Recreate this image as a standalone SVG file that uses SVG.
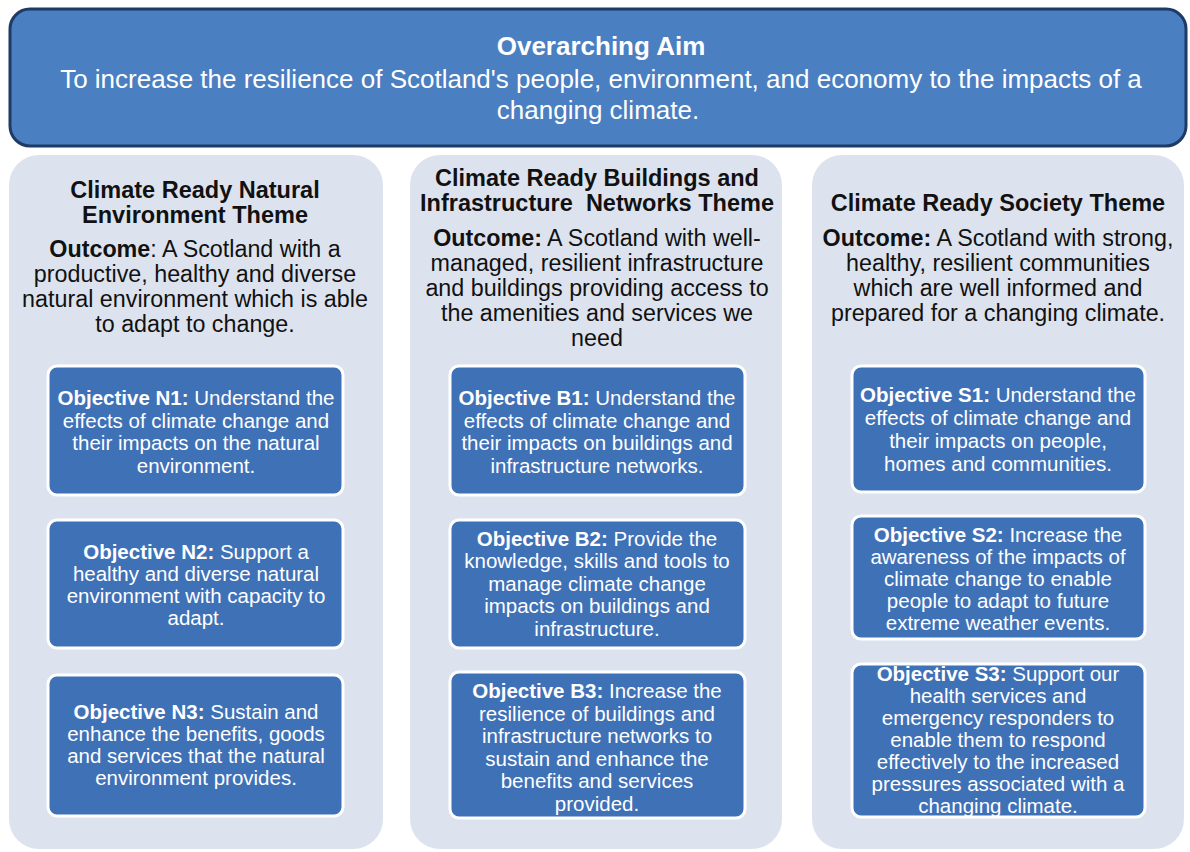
<svg xmlns="http://www.w3.org/2000/svg" width="1190" height="852" viewBox="0 0 1190 852">
<style>
.aimbox{fill:#4a7fc1;stroke:#1d3b64;stroke-width:3}
.panel{fill:#dde3ee}
.obj{fill:#3f71b7;stroke:#ffffff;stroke-width:3}
.wt{font-family:"Liberation Sans",Arial,sans-serif;fill:#ffffff;text-anchor:middle}
.aim{font-size:26px}
.ot{font-size:20.5px}
.th{font-family:"Liberation Sans",Arial,sans-serif;fill:#111111;text-anchor:middle;font-size:23.5px;font-weight:bold}
.oc{font-family:"Liberation Sans",Arial,sans-serif;fill:#111111;text-anchor:middle;font-size:23.3px}
.b{font-weight:bold}
</style>
<rect width="1190" height="852" fill="#ffffff"/>
<g id="aim">
<rect class="aimbox" x="10" y="9" width="1176" height="137" rx="20"/>
<text class="wt aim" x="601" y="55"><tspan class="b">Overarching Aim</tspan></text>
<text class="wt aim" x="601" y="88">To increase the resilience of Scotland's people, environment, and economy to the impacts of a</text>
<text class="wt aim" x="598" y="119">changing climate.</text>
</g>
<g id="theme-natural">
<rect class="panel" x="9" y="155" width="374" height="694" rx="30"/>
<text class="th" x="195" y="198">Climate Ready Natural</text>
<text class="th" x="195" y="223">Environment Theme</text>
<text class="oc" x="195" y="257"><tspan class="b">Outcome</tspan>: A Scotland with a</text>
<text class="oc" x="195" y="282">productive, healthy and diverse</text>
<text class="oc" x="195" y="307">natural environment which is able</text>
<text class="oc" x="195" y="332">to adapt to change.</text>
</g>
<g id="theme-buildings">
<rect class="panel" x="410" y="155" width="372" height="694" rx="30"/>
<text class="th" x="597" y="186">Climate Ready Buildings and</text>
<text class="th" x="597" y="211" xml:space="preserve">Infrastructure  Networks Theme</text>
<text class="oc" x="597" y="246"><tspan class="b">Outcome:</tspan> A Scotland with well-</text>
<text class="oc" x="597" y="271">managed, resilient infrastructure</text>
<text class="oc" x="597" y="296">and buildings providing access to</text>
<text class="oc" x="597" y="321">the amenities and services we</text>
<text class="oc" x="597" y="346">need</text>
</g>
<g id="theme-society">
<rect class="panel" x="812" y="155" width="372" height="694" rx="30"/>
<text class="th" x="998" y="211">Climate Ready Society Theme</text>
<text class="oc" x="998" y="246"><tspan class="b">Outcome:</tspan> A Scotland with strong,</text>
<text class="oc" x="998" y="271">healthy, resilient communities</text>
<text class="oc" x="998" y="296">which are well informed and</text>
<text class="oc" x="998" y="321">prepared for a changing climate.</text>
</g>
<g id="obj-n1">
<rect class="obj" x="48" y="366" width="295" height="129" rx="9"/>
<text class="wt ot" x="196" y="405"><tspan class="b">Objective N1:</tspan> Understand the</text>
<text class="wt ot" x="196" y="428">effects of climate change and</text>
<text class="wt ot" x="196" y="450">their impacts on the natural</text>
<text class="wt ot" x="196" y="473">environment.</text>
</g>
<g id="obj-n2">
<rect class="obj" x="48" y="520" width="295" height="128" rx="9"/>
<text class="wt ot" x="196" y="559"><tspan class="b">Objective N2:</tspan> Support a</text>
<text class="wt ot" x="196" y="581">healthy and diverse natural</text>
<text class="wt ot" x="196" y="603">environment with capacity to</text>
<text class="wt ot" x="196" y="625">adapt.</text>
</g>
<g id="obj-n3">
<rect class="obj" x="48" y="675" width="295" height="141" rx="9"/>
<text class="wt ot" x="196" y="719"><tspan class="b">Objective N3:</tspan> Sustain and</text>
<text class="wt ot" x="196" y="741">enhance the benefits, goods</text>
<text class="wt ot" x="196" y="763">and services that the natural</text>
<text class="wt ot" x="196" y="785">environment provides.</text>
</g>
<g id="obj-b1">
<rect class="obj" x="450" y="366" width="295" height="129" rx="9"/>
<text class="wt ot" x="597" y="405"><tspan class="b">Objective B1:</tspan> Understand the</text>
<text class="wt ot" x="597" y="428">effects of climate change and</text>
<text class="wt ot" x="597" y="450">their impacts on buildings and</text>
<text class="wt ot" x="597" y="473">infrastructure networks.</text>
</g>
<g id="obj-b2">
<rect class="obj" x="450" y="520" width="295" height="128" rx="9"/>
<text class="wt ot" x="597" y="546"><tspan class="b">Objective B2:</tspan> Provide the</text>
<text class="wt ot" x="597" y="568">knowledge, skills and tools to</text>
<text class="wt ot" x="597" y="591">manage climate change</text>
<text class="wt ot" x="597" y="613">impacts on buildings and</text>
<text class="wt ot" x="597" y="636">infrastructure.</text>
</g>
<g id="obj-b3">
<rect class="obj" x="450" y="672" width="295" height="146" rx="9"/>
<text class="wt ot" x="597" y="698"><tspan class="b">Objective B3:</tspan> Increase the</text>
<text class="wt ot" x="597" y="721">resilience of buildings and</text>
<text class="wt ot" x="597" y="743">infrastructure networks to</text>
<text class="wt ot" x="597" y="766">sustain and enhance the</text>
<text class="wt ot" x="597" y="788">benefits and services</text>
<text class="wt ot" x="597" y="811">provided.</text>
</g>
<g id="obj-s1">
<rect class="obj" x="852" y="366" width="293" height="126" rx="9"/>
<text class="wt ot" x="998" y="402"><tspan class="b">Objective S1:</tspan> Understand the</text>
<text class="wt ot" x="998" y="425">effects of climate change and</text>
<text class="wt ot" x="998" y="448">their impacts on people,</text>
<text class="wt ot" x="998" y="471">homes and communities.</text>
</g>
<g id="obj-s2">
<rect class="obj" x="852" y="516" width="293" height="123" rx="9"/>
<text class="wt ot" x="998" y="542"><tspan class="b">Objective S2:</tspan> Increase the</text>
<text class="wt ot" x="998" y="564">awareness of the impacts of</text>
<text class="wt ot" x="998" y="586">climate change to enable</text>
<text class="wt ot" x="998" y="608">people to adapt to future</text>
<text class="wt ot" x="998" y="630">extreme weather events.</text>
</g>
<g id="obj-s3">
<rect class="obj" x="852" y="664" width="293" height="153" rx="9"/>
<text class="wt ot" x="998" y="681"><tspan class="b">Objective S3:</tspan> Support our</text>
<text class="wt ot" x="998" y="703">health services and</text>
<text class="wt ot" x="998" y="725">emergency responders to</text>
<text class="wt ot" x="998" y="747">enable them to respond</text>
<text class="wt ot" x="998" y="769">effectively to the increased</text>
<text class="wt ot" x="998" y="791">pressures associated with a</text>
<text class="wt ot" x="998" y="813">changing climate.</text>
</g>
<g id="connectors"></g>
</svg>
